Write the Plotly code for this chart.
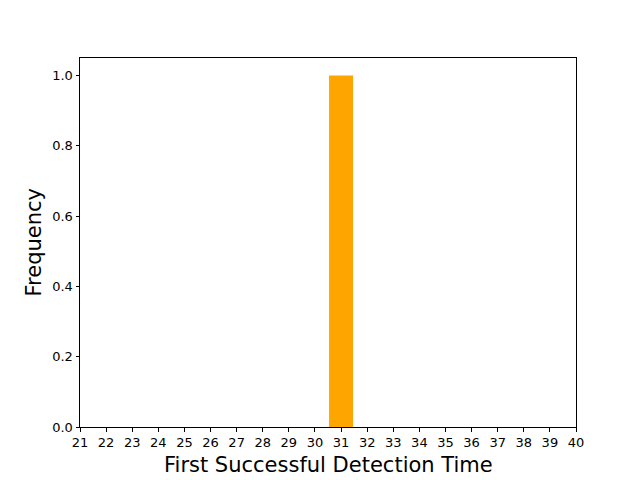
import plotly.graph_objects as go

times = [31]
freqs = [1.0]
x_ticks = list(range(21, 41))
y_ticks = [0.0, 0.2, 0.4, 0.6, 0.8, 1.0]
x_title = "First Successful Detection Time"
y_title = "Frequency"

fig = go.Figure(go.Bar(x=times, y=freqs, width=0.92, marker=dict(color="orange", line=dict(width=0))))

fig.update_layout(
    width=624, height=472,
    margin=dict(l=72, r=56, t=50, b=53, pad=0),
    paper_bgcolor="white", plot_bgcolor="white",
    font=dict(family="DejaVu Sans", size=13, color="black"),
    showlegend=False,
    annotations=[
        dict(text=x_title, xref="paper", yref="paper", x=0.5, y=0, yshift=-38,
             xanchor="center", yanchor="middle", showarrow=False, font=dict(size=21)),
        dict(text=y_title, xref="paper", yref="paper", x=0, y=0.5, xshift=-47,
             xanchor="center", yanchor="middle", textangle=-90, showarrow=False, font=dict(size=21)),
    ],
)
fig.update_xaxes(
    range=[21, 40], tickvals=x_ticks, ticktext=[str(t) for t in x_ticks],
    ticks="outside", ticklen=3.5, tickwidth=0.8, tickcolor="black",
    showline=True, linecolor="black", linewidth=1, mirror=True, showgrid=False, zeroline=False,
    automargin=False, tickfont=dict(size=13),
)
fig.update_yaxes(
    range=[0, 1.05], tickvals=y_ticks, ticktext=[f"{v:.1f}" for v in y_ticks],
    ticks="outside", ticklen=3.5, tickwidth=0.8, tickcolor="black",
    showline=True, linecolor="black", linewidth=1, mirror=True, showgrid=False, zeroline=False,
    automargin=False, tickfont=dict(size=13),
)
fig.write_html("out.html")
